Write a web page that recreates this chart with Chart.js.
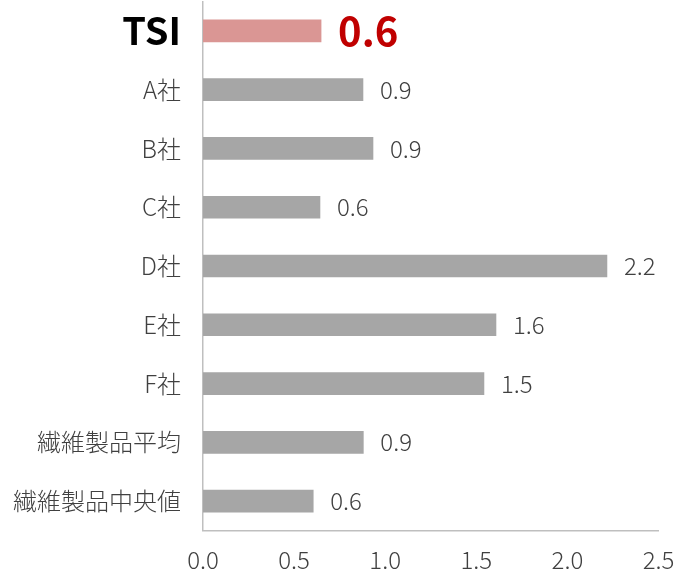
<!DOCTYPE html>
<html><head><meta charset="utf-8">
<script src="https://cdn.jsdelivr.net/npm/chart.js@4"></script>
<style>html,body{margin:0;padding:0;background:#fff}#wrap{width:680px;height:574px}</style>
</head><body><div id="wrap"><canvas id="c" width="680" height="574"></canvas></div>
<script>
const categories = ['TSI','A社','B社','C社','D社','E社','F社','繊維製品平均','繊維製品中央値'];
const values = [0.648, 0.878, 0.933, 0.642, 2.217, 1.608, 1.542, 0.880, 0.605];
const valueLabels = ['0.6','0.9','0.9','0.6','2.2','1.6','1.5','0.9','0.6'];
const xTicks = [0, 0.5, 1.0, 1.5, 2.0, 2.5];

const FONT = '"Noto Sans CJK JP", "Noto Sans", sans-serif';
const barColors = categories.map((c,i)=> i===0 ? '#da9694' : '#a6a6a6');

const labelPlugin = {
  id: 'valLabels',
  afterDatasetsDraw(chart){
    const ctx = chart.ctx;
    const meta = chart.getDatasetMeta(0);
    ctx.save();
    ctx.textAlign = 'left';
    ctx.textBaseline = 'middle';
    meta.data.forEach((bar,i)=>{
      if(i===0){
        ctx.font = 'bold 40px ' + FONT;
        ctx.fillStyle = '#c00000';
      } else {
        ctx.font = '300 24px ' + FONT;
        ctx.fillStyle = '#404040';
      }
      ctx.fillText(valueLabels[i], bar.x + 17, bar.y);
    });
    ctx.restore();
  }
};

new Chart(document.getElementById('c'), {
  type: 'bar',
  data: {
    labels: categories,
    datasets: [{ data: values, backgroundColor: barColors, barThickness: 22, borderWidth: 0 }]
  },
  options: {
    indexAxis: 'y',
    responsive: false,
    animation: false,
    layout: { padding: { top: 1.5, right: 21.5, left: 0, bottom: 0 } },
    plugins: { legend: { display: false }, tooltip: { enabled: false } },
    scales: {
      x: {
        min: 0, max: 2.5,
        afterBuildTicks(scale){ scale.ticks = xTicks.map(v=>({value:v})); },
        grid: { display: false, drawTicks: false },
        border: { display: true, color: '#bfbfbf', width: 1.5 },
        ticks: { color: '#404040', font: { family: FONT, size: 24, weight: '300' }, padding: 15,
                 callback: v => Number(v).toFixed(1) },
        afterFit(scale){ scale.height = 43.5; scale.paddingLeft = 0; scale.paddingRight = 0; }
      },
      y: {
        grid: { display: false, drawTicks: false },
        border: { display: true, color: '#bfbfbf', width: 1.5 },
        ticks: {
          padding: 22,
          color: ctx => ctx.index === 0 ? '#000000' : '#404040',
          font: ctx => ctx.index === 0 ? { family: FONT, size: 38, weight: 'bold' } : { family: FONT, size: 24, weight: '300' }
        },
        afterFit(scale){ scale.width = 203; scale.paddingTop = 0; scale.paddingBottom = 0; }
      }
    }
  },
  plugins: [labelPlugin]
});
</script>
</body></html>
